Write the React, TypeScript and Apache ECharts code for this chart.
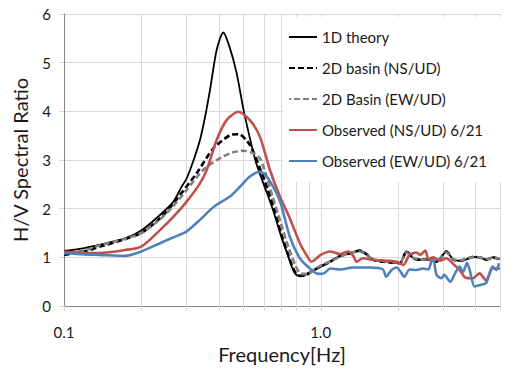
import React, { useEffect, useRef } from "react";
import * as echarts from "echarts";

// ---------- data (frequency in Hz, H/V spectral ratio) ----------
const theoryFreq = [0.1, 0.12, 0.138, 0.1727, 0.2, 0.2366, 0.2666, 0.2873, 0.3006, 0.32, 0.3387, 0.355, 0.3706, 0.3934, 0.4175, 0.44, 0.47, 0.5, 0.53, 0.56, 0.6, 0.65, 0.7, 0.75, 0.78, 0.81, 0.85, 0.9, 0.95, 1.0, 1.09, 1.19, 1.3, 1.42, 1.52, 1.6, 1.75, 1.92, 2.04, 2.16, 2.3, 2.44, 2.58, 2.83, 3.09, 3.29, 3.48, 3.7, 3.92, 4.16, 4.41, 4.68, 5.0];
const theoryHV = [1.13, 1.19, 1.26, 1.39, 1.55, 1.87, 2.14, 2.45, 2.62, 3.0, 3.41, 3.9, 4.44, 5.26, 5.62, 5.35, 4.8, 4.05, 3.45, 2.95, 2.5, 2.0, 1.45, 1.0, 0.75, 0.63, 0.62, 0.68, 0.75, 0.81, 0.91, 1.03, 1.08, 1.14, 1.05, 0.95, 0.91, 0.89, 0.88, 1.12, 0.98, 0.95, 0.96, 0.91, 1.12, 0.95, 0.93, 0.96, 1.01, 1.0, 0.95, 1.0, 0.96];

const basinNSFreq = [0.1, 0.12, 0.138, 0.17, 0.2, 0.2366, 0.2666, 0.29, 0.329, 0.382, 0.4434, 0.48, 0.53, 0.58, 0.62, 0.66, 0.7, 0.75, 0.79, 0.83, 0.88, 0.93, 1.0, 1.09, 1.19, 1.3, 1.42, 1.52, 1.6, 1.75, 1.92, 2.04, 2.16, 2.3, 2.44, 2.58, 2.83, 3.09, 3.29, 3.48, 3.7, 3.92, 4.16, 4.41, 4.68, 5.0];
const basinNSHV = [1.05, 1.12, 1.22, 1.36, 1.5, 1.8, 2.1, 2.35, 2.73, 3.24, 3.51, 3.53, 3.31, 2.83, 2.42, 1.98, 1.5, 1.03, 0.72, 0.62, 0.64, 0.72, 0.81, 0.91, 1.03, 1.08, 1.14, 1.05, 0.95, 0.91, 0.89, 0.88, 1.12, 0.98, 0.95, 0.96, 0.91, 1.12, 0.95, 0.93, 0.96, 1.01, 1.0, 0.95, 1.0, 0.96];

const basinEWFreq = [0.1, 0.12, 0.138, 0.17, 0.2, 0.2366, 0.2666, 0.3, 0.349, 0.4, 0.45, 0.5, 0.54, 0.58, 0.616, 0.65, 0.7, 0.75, 0.8, 0.84, 0.9, 0.95, 1.0, 1.09, 1.19, 1.3, 1.42, 1.52, 1.6, 1.75, 1.92, 2.04, 2.16, 2.3, 2.44, 2.58, 2.83, 3.09, 3.29, 3.48, 3.7, 3.92, 4.16, 4.41, 4.68, 5.0];
const basinEWHV = [1.08, 1.14, 1.25, 1.37, 1.5, 1.78, 2.05, 2.38, 2.8, 3.02, 3.15, 3.19, 3.15, 3.03, 2.66, 2.25, 1.7, 1.2, 0.82, 0.66, 0.67, 0.76, 0.83, 0.92, 1.01, 1.09, 1.12, 1.04, 0.96, 0.92, 0.9, 0.9, 1.1, 0.99, 0.96, 0.95, 0.93, 1.1, 0.96, 0.94, 0.97, 1.0, 1.0, 0.96, 0.99, 0.97];

const obsNSFreq = [0.1, 0.12, 0.138, 0.1727, 0.2, 0.2366, 0.2666, 0.3, 0.3387, 0.36, 0.3934, 0.43, 0.4775, 0.53, 0.58, 0.635, 0.694, 0.759, 0.83, 0.88, 0.92, 0.96, 1.0, 1.09, 1.19, 1.28, 1.34, 1.38, 1.46, 1.6, 1.8, 1.98, 2.1, 2.22, 2.36, 2.44, 2.56, 2.63, 2.75, 2.91, 3.09, 3.29, 3.48, 3.65, 3.92, 4.16, 4.41, 4.68, 5.0];
const obsNSHV = [1.12, 1.09, 1.09, 1.15, 1.22, 1.56, 1.83, 2.14, 2.52, 2.8, 3.41, 3.82, 3.99, 3.82, 3.48, 2.79, 2.25, 1.8, 1.29, 1.05, 0.91, 0.97, 1.05, 1.12, 1.07, 1.12, 1.03, 0.91, 0.98, 0.95, 0.93, 0.91, 0.84, 1.05, 1.1, 1.05, 1.14, 0.96, 1.0, 0.93, 0.98, 0.86, 0.74, 0.59, 0.57, 0.67, 0.53, 0.77, 0.77];

const obsEWFreq = [0.1, 0.12, 0.138, 0.1727, 0.2, 0.2366, 0.2666, 0.3, 0.3387, 0.3706, 0.3934, 0.4434, 0.485, 0.53, 0.58, 0.616, 0.664, 0.7, 0.759, 0.83, 0.908, 0.977, 1.03, 1.09, 1.19, 1.34, 1.56, 1.75, 1.8, 1.89, 1.98, 2.04, 2.12, 2.22, 2.36, 2.5, 2.63, 2.7, 2.75, 2.83, 2.96, 3.03, 3.2, 3.34, 3.48, 3.59, 3.72, 3.81, 3.98, 4.16, 4.41, 4.55, 4.68, 4.84, 4.95];
const obsEWHV = [1.09, 1.06, 1.05, 1.03, 1.12, 1.29, 1.41, 1.53, 1.77, 1.97, 2.08, 2.25, 2.45, 2.66, 2.76, 2.66, 2.38, 2.1, 1.42, 0.98, 0.77, 0.66, 0.67, 0.77, 0.75, 0.79, 0.79, 0.75, 0.6, 0.74, 0.79, 0.72, 0.6, 0.75, 0.74, 0.77, 0.75, 0.91, 0.95, 0.64, 0.57, 0.64, 0.5, 0.67, 0.81, 0.7, 0.89, 0.74, 0.4, 0.43, 0.47, 0.67, 0.81, 0.74, 0.88];

const seriesNames = ["1D theory", "2D basin (NS/UD)", "2D Basin (EW/UD)", "Observed (NS/UD) 6/21", "Observed (EW/UD) 6/21"];
const gridFreq = [0.1, 0.2, 0.3, 0.4, 0.5, 0.6, 0.7, 0.8, 0.9, 1.0, 2, 3, 4, 5];
const xTickLabels = ["0.1", "1.0"];

const FONT = "Lato, 'Open Sans', sans-serif";
const zip = (xs: number[], ys: number[]) => xs.map((x, i) => [x, ys[i]]);

export default function App() {
  const ref = useRef<HTMLDivElement>(null);
  useEffect(() => {
    if (!ref.current) return;
    const chart = echarts.init(ref.current, undefined, { renderer: "svg" });
    const lineBase = { type: "line", showSymbol: false, symbol: "none", smooth: 0.25, z: 3 };
    chart.setOption({
      animation: false,
      textStyle: { fontFamily: FONT },
      grid: { left: 64, right: 22, top: 14, bottom: 64, containLabel: false },
      xAxis: {
        type: "log",
        logBase: 10,
        min: 0.1,
        max: 5,
        name: "Frequency[Hz]",
        nameLocation: "middle",
        nameGap: 38,
        nameTextStyle: { fontSize: 20, color: "#1a1a1a", fontFamily: FONT },
        axisLine: { show: true, lineStyle: { color: "#868686", width: 1 } },
        axisTick: { show: false },
        splitLine: { show: false },
        axisLabel: {
          fontSize: 15,
          color: "#1a1a1a",
          margin: 18,
          showMaxLabel: false,
          formatter: (v: number) => (Math.abs(v - 0.1) < 1e-9 ? xTickLabels[0] : Math.abs(v - 1) < 1e-9 ? xTickLabels[1] : ""),
        },
      },
      yAxis: {
        type: "value",
        min: 0,
        max: 6,
        interval: 1,
        name: "H/V Spectral Ratio",
        nameLocation: "middle",
        nameGap: 34,
        nameTextStyle: { fontSize: 20, color: "#1a1a1a", fontFamily: FONT },
        axisLine: { show: true, lineStyle: { color: "#868686", width: 1 } },
        axisTick: { show: true, length: 5, lineStyle: { color: "#D9D9D9" } },
        splitLine: { show: true, lineStyle: { color: "#D9D9D9", width: 1 } },
        axisLabel: { fontSize: 15, color: "#1a1a1a", margin: 13 },
      },
      legend: {
        data: seriesNames,
        orient: "vertical",
        left: 283,
        top: 17,
        itemWidth: 28,
        itemHeight: 14,
        itemGap: 13,
        padding: [11, 20, 12, 5],
        backgroundColor: "#ffffff",
        itemStyle: { opacity: 0 },
        textStyle: { fontSize: 15, lineHeight: 18, color: "#1a1a1a", fontFamily: FONT },
      },
      series: [
        {
          type: "custom",
          silent: true,
          z: 1,
          data: gridFreq.map((f) => [f, 0]),
          encode: { x: 0, y: 1 },
          renderItem: (params: any, api: any) => {
            const f = api.value(0);
            const top = api.coord([f, 6]);
            const bot = api.coord([f, 0]);
            const x = Math.round(top[0]) + 0.5;
            const isAxis = Math.abs(f - 0.1) < 1e-9;
            return {
              type: "line",
              shape: { x1: x, y1: isAxis ? bot[1] : top[1], x2: x, y2: bot[1] + 5 },
              style: { stroke: "#D9D9D9", lineWidth: 1 },
            };
          },
        },
        { ...lineBase, name: seriesNames[0], data: zip(theoryFreq, theoryHV), lineStyle: { color: "#000000", width: 1.8 }, itemStyle: { color: "#000000" } },
        { ...lineBase, name: seriesNames[1], data: zip(basinNSFreq, basinNSHV), lineStyle: { color: "#000000", width: 2.6, type: [6, 3] }, itemStyle: { color: "#000000" } },
        { ...lineBase, name: seriesNames[2], data: zip(basinEWFreq, basinEWHV), lineStyle: { color: "#808080", width: 2.6, type: [6, 3], dashOffset: 4 }, itemStyle: { color: "#808080" } },
        { ...lineBase, name: seriesNames[3], data: zip(obsNSFreq, obsNSHV), lineStyle: { color: "#C0504D", width: 2.6 }, itemStyle: { color: "#C0504D" } },
        { ...lineBase, name: seriesNames[4], data: zip(obsEWFreq, obsEWHV), lineStyle: { color: "#4F81BD", width: 2.6 }, itemStyle: { color: "#4F81BD" } },
      ],
    });
    return () => chart.dispose();
  }, []);
  return <div ref={ref} style={{ width: 522, height: 370, position: "absolute", left: 0, top: 0 }} />;
}
